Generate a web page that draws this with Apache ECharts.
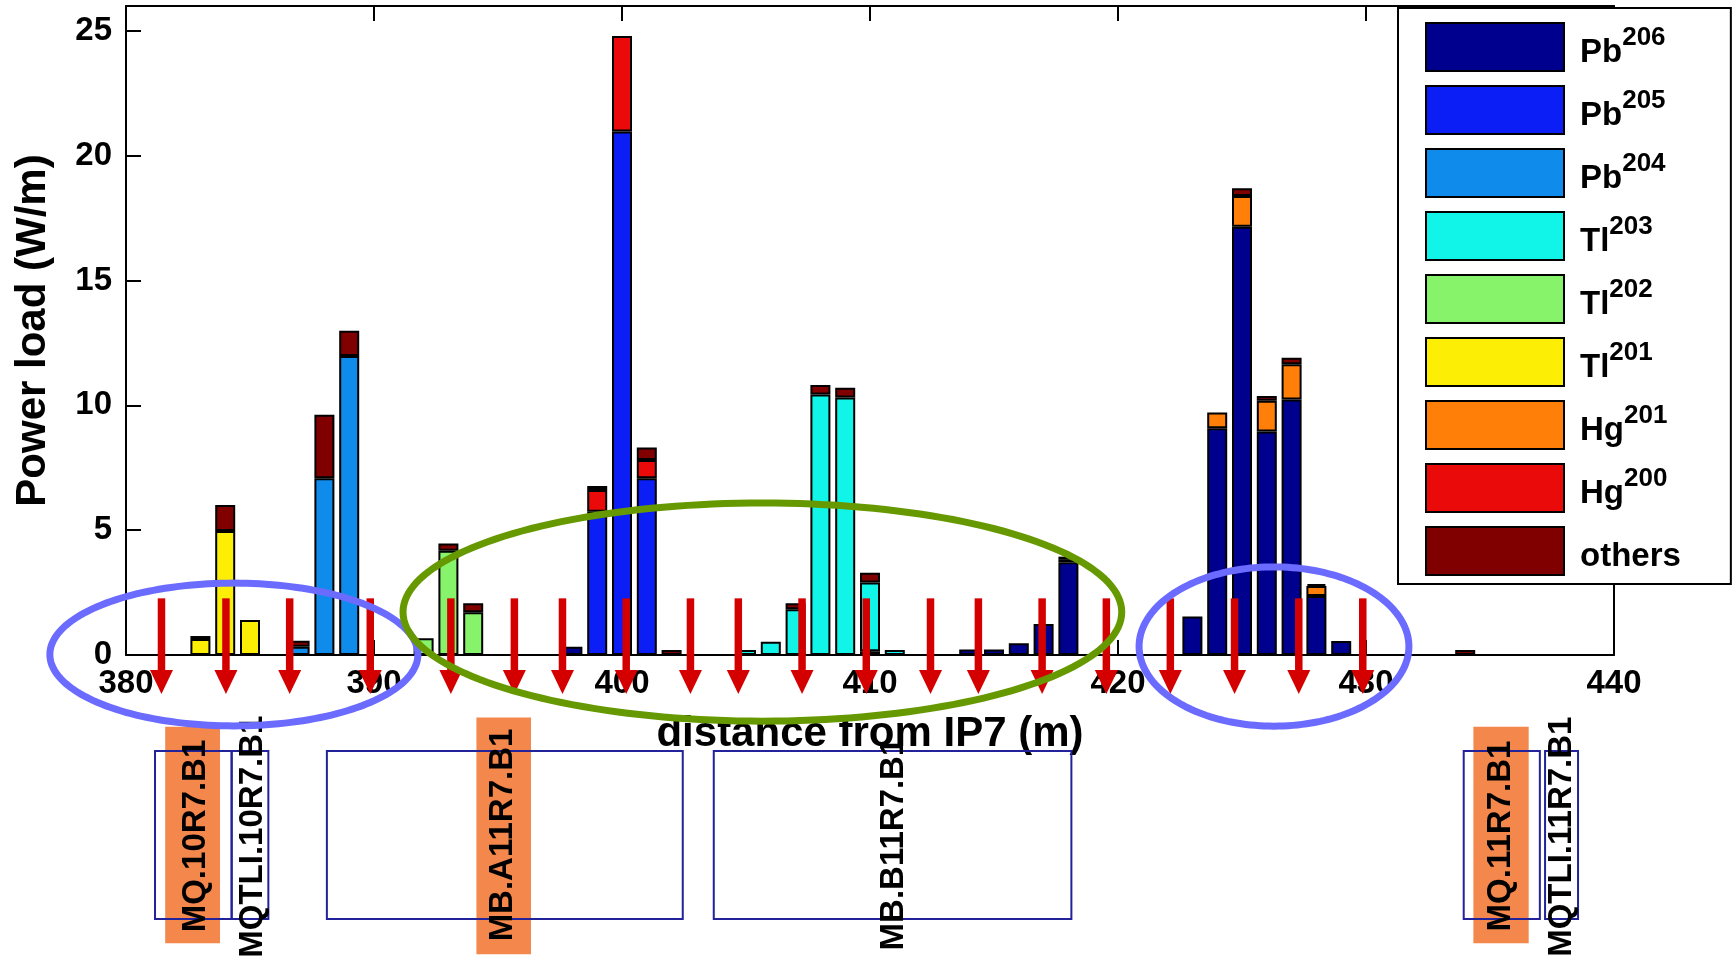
<!DOCTYPE html>
<html><head><meta charset="utf-8">
<script src="https://cdn.jsdelivr.net/npm/echarts@6/dist/echarts.min.js"></script>
<style>html,body{margin:0;padding:0;background:#fff}#c{width:1734px;height:965px}</style>
</head><body><div id="c"></div>
<script>
// ---------- data ----------
const positions = [383,384,385, 387,388,389, 392,393,394, 398,399,400,401,402, 405,406,407,408,409,410,411, 414,415,416,417,418, 423,424,425,426,427,428,429, 434];
const Pb206  = [0,0,0, 0,0,0, 0,0,0, 0.33,0,0,0,0, 0,0,0,0,0,0.15,0, 0.22,0.22,0.47,1.24,3.72, 1.54,9.08,17.16,8.95,10.24,2.36,0.56, 0];
const Pb205  = [0,0,0, 0,0,0, 0,0,0, 0,5.74,20.97,7.08,0, 0,0,0,0,0,0,0, 0,0,0,0,0, 0,0,0,0,0,0,0, 0];
const Pb204  = [0,0,0, 0.33,7.08,11.98, 0,0,0, 0,0,0,0,0, 0,0,0,0,0,0,0, 0,0,0,0,0, 0,0,0,0,0,0,0, 0];
const Tl203  = [0,0,0, 0,0,0, 0,0,0, 0,0,0,0,0, 0.2,0.53,1.83,10.44,10.32,2.75,0.2, 0,0,0,0,0, 0,0,0,0,0,0,0, 0];
const Tl202  = [0,0,0, 0,0,0, 0.67,4.18,1.71, 0,0,0,0,0, 0,0,0,0,0,0,0, 0,0,0,0,0, 0,0,0,0,0,0,0, 0];
const Tl201  = [0.64,4.97,1.40, 0,0,0, 0,0,0, 0,0,0,0,0, 0,0,0,0,0,0,0, 0,0,0,0,0, 0,0,0,0,0,0,0, 0];
const Hg201  = [0,0,0, 0,0,0, 0,0,0, 0,0,0,0,0, 0,0,0,0,0,0,0, 0,0,0,0,0.12, 0,0.63,1.23,1.24,1.41,0.40,0, 0];
const Hg200  = [0,0,0, 0,0,0, 0,0,0, 0,0.87,3.83,0.73,0, 0,0,0,0,0,0,0, 0,0,0,0,0, 0,0,0,0,0,0,0, 0];
const others = [0.12,1.04,0, 0.24,2.54,1.01, 0,0.29,0.36, 0,0.16,0,0.50,0.2, 0,0,0.24,0.38,0.39,0.40,0, 0,0,0,0,0.1, 0,0,0.31,0.19,0.26,0.08,0, 0.2];

const seriesNames = ['Pb206','Pb205','Pb204','Tl203','Tl202','Tl201','Hg201','Hg200','others'];
const seriesValues = [Pb206, Pb205, Pb204, Tl203, Tl202, Tl201, Hg201, Hg200, others];

const xTicks = {min: 380, max: 440, interval: 10};
const yTicks = {min: 0, max: 26, interval: 5};

// annotations (data units: m, W/m)
const arrowX = [381.43, 384.03, 386.6, 389.85, 393.1, 395.66, 397.6, 400.17, 402.76, 404.69, 407.26, 409.85, 412.44, 414.37, 416.94, 419.53, 422.11, 424.7, 427.29, 429.87];
const arrowTop = 2.27, arrowNeck = -0.60, arrowTip = -1.56;
const ellipseCx = [384.35, 405.66, 426.29];
const ellipseCy = [0.02, 1.72, 0.34];
const ellipseRx = [7.42, 14.49, 5.44];
const ellipseRy = [2.86, 4.37, 3.19];

// magnet layout (x in m, strip units 0..1)
const magnetNames = ['MQ.10R7.B1','MQTLI.10R7.B1','MB.A11R7.B1','MB.B11R7.B1','MQ.11R7.B1','MQTLI.11R7.B1'];
const magnetStart = [381.17, 384.26, 388.10, 403.70, 433.94, 437.22];
const magnetEnd   = [384.26, 385.74, 402.45, 418.12, 437.01, 438.55];
const labelX = [382.80, 385.12, 395.20, 410.95, 435.44, 437.90];
const labelY = [0.494, 0.49, 0.50, 0.446, 0.494, 0.49];
const hlStart = [381.58, 394.13, 434.33];
const hlEnd   = [383.79, 396.33, 436.56];
const hlBottom = [-0.145, -0.21, -0.145];
const hlTop    = [1.145, 1.20, 1.145];

// ---------- styles ----------
const FONT = '"Liberation Sans", Arial, sans-serif';
const colors = ['#00008f','#0a1ef5','#0f8ceb','#10f5e8','#86f36a','#fcef05','#ff7f08','#ea0a0a','#800000'];
const ellipseColors = ['#6b6bff','#669900','#6b6bff'];
const ARROW_COLOR = '#d40000';

const chart = echarts.init(document.getElementById('c'));

const axisLineStyle = {show: true, onZero: false, lineStyle: {color: '#000', width: 2}};
const tickStyle = {show: true, inside: true, length: 15, lineStyle: {color: '#000', width: 2}};
const labelStyle = {color: '#000', fontFamily: FONT, fontWeight: 'bold', fontSize: 33};

// data given as [value, position] so that the stacked dimension is the value (y) one
const barSeries = seriesNames.map((name, k) => ({
  name, type: 'bar', stack: 'total', xAxisIndex: 0, yAxisIndex: 0,
  encode: {x: 1, y: 0},
  barWidth: 20,
  itemStyle: {color: colors[k], borderColor: '#000', borderWidth: 2},
  emphasis: {disabled: true},
  data: positions.map((x, i) => [seriesValues[k][i] ? seriesValues[k][i] : null, x]),
  z: 2
}));

const ellipseSeries = {
  type: 'custom', xAxisIndex: 0, yAxisIndex: 0, clip: false, z: 5, silent: true,
  data: ellipseCx.map((x, i) => [x, ellipseCy[i]]),
  renderItem(params, api) {
    const i = params.dataIndex;
    const c = api.coord([ellipseCx[i], ellipseCy[i]]);
    const e = api.coord([ellipseCx[i] + ellipseRx[i], ellipseCy[i] + ellipseRy[i]]);
    const rx = e[0] - c[0], ry = c[1] - e[1];
    const pts = [];
    for (let t = 0; t < 180; t++) {
      const a = t / 180 * Math.PI * 2;
      pts.push([c[0] + rx * Math.cos(a), c[1] + ry * Math.sin(a)]);
    }
    return {type: 'polygon', shape: {points: pts}, style: {fill: null, stroke: ellipseColors[i], lineWidth: 7}};
  }
};

const arrowSeries = {
  type: 'custom', xAxisIndex: 0, yAxisIndex: 0, clip: false, z: 4, silent: true,
  data: arrowX.map(x => [x, arrowTop]),
  renderItem(params, api) {
    const x = api.value(0);
    const top = api.coord([x, arrowTop]);
    const neck = api.coord([x, arrowNeck]);
    const tip = api.coord([x, arrowTip]);
    return {type: 'group', children: [
      {type: 'rect', shape: {x: top[0] - 3.75, y: top[1], width: 7.5, height: neck[1] - top[1] + 1}, style: {fill: ARROW_COLOR}},
      {type: 'polygon', shape: {points: [[neck[0] - 11.5, neck[1]], [neck[0] + 11.5, neck[1]], [tip[0], tip[1]]]}, style: {fill: ARROW_COLOR}}
    ]};
  }
};

const highlightSeries = {
  type: 'custom', xAxisIndex: 2, yAxisIndex: 2, clip: false, z: 2, silent: true,
  data: hlStart.map((x, i) => [x, hlBottom[i]]),
  renderItem(params, api) {
    const i = params.dataIndex;
    const a = api.coord([hlStart[i], hlTop[i]]);
    const b = api.coord([hlEnd[i], hlBottom[i]]);
    return {type: 'rect', shape: {x: a[0], y: a[1], width: b[0] - a[0], height: b[1] - a[1]}, style: {fill: '#f4874b'}};
  }
};

const boxSeries = {
  type: 'custom', xAxisIndex: 2, yAxisIndex: 2, clip: false, z: 3, silent: true,
  data: magnetStart.map((x, i) => [x, 0]),
  renderItem(params, api) {
    const i = params.dataIndex;
    const a = api.coord([magnetStart[i], 1]);
    const b = api.coord([magnetEnd[i], 0]);
    return {type: 'rect', shape: {x: a[0], y: a[1], width: b[0] - a[0], height: b[1] - a[1]}, style: {fill: null, stroke: '#22229a', lineWidth: 2}};
  }
};

const labelSeries = {
  type: 'custom', xAxisIndex: 2, yAxisIndex: 2, clip: false, z: 4, silent: true,
  data: labelX.map((x, i) => [x, labelY[i]]),
  renderItem(params, api) {
    const i = params.dataIndex;
    const p = api.coord([labelX[i], labelY[i]]);
    return {type: 'text', x: p[0], y: p[1], rotation: Math.PI / 2,
      style: {text: magnetNames[i], fill: '#000', font: 'bold 33px ' + FONT, align: 'center', verticalAlign: 'middle'}};
  }
};

const option = {
  animation: false,
  backgroundColor: '#fff',
  grid: [
    {left: 126, right: 120, top: 6, bottom: 310, containLabel: false},
    {left: 126, right: 120, top: 751, height: 168, containLabel: false}
  ],
  legend: {
    orient: 'vertical', left: 1398, top: 8, padding: [14, 50, 8, 27],
    itemWidth: 138, itemHeight: 48, itemGap: 13, icon: 'rect',
    backgroundColor: '#fff', borderColor: '#000', borderWidth: 2,
    selectedMode: false, z: 10,
    data: seriesNames,
    formatter: n => { const m = n.match(/^([A-Za-z]+)(\d+)$/); return m ? '{m|' + m[1] + '}{s|' + m[2] + '}' : '{m|' + n + '}'; },
    textStyle: {color: '#000', fontFamily: FONT, fontWeight: 'bold', fontSize: 33, padding: [0, 0, 0, 11],
      rich: {
        m: {fontSize: 33, fontWeight: 'bold', fontFamily: FONT, color: '#000', lineHeight: 44, verticalAlign: 'bottom'},
        s: {fontSize: 26, fontWeight: 'bold', fontFamily: FONT, color: '#000', lineHeight: 26, verticalAlign: 'top'}
      }}
  },
  xAxis: [
    {type: 'value', gridIndex: 0, position: 'bottom', min: xTicks.min, max: xTicks.max, interval: xTicks.interval,
     axisLine: axisLineStyle, axisTick: tickStyle, splitLine: {show: false},
     axisLabel: Object.assign({margin: 12}, labelStyle),
     name: 'distance from IP7 (m)', nameLocation: 'middle', nameGap: 58,
     nameTextStyle: {color: '#000', fontFamily: FONT, fontWeight: 'bold', fontSize: 42}},
    {type: 'value', gridIndex: 0, position: 'top', min: xTicks.min, max: xTicks.max, interval: xTicks.interval,
     axisLine: axisLineStyle, axisTick: tickStyle, splitLine: {show: false}, axisLabel: {show: false}},
    {type: 'value', gridIndex: 1, min: xTicks.min, max: xTicks.max, show: false}
  ],
  yAxis: [
    {type: 'value', gridIndex: 0, position: 'left', min: yTicks.min, max: yTicks.max, interval: yTicks.interval,
     axisLine: axisLineStyle, axisTick: tickStyle, splitLine: {show: false},
     axisLabel: Object.assign({margin: 14, showMaxLabel: false}, labelStyle),
     name: 'Power load (W/m)', nameLocation: 'middle', nameGap: 72,
     nameTextStyle: {color: '#000', fontFamily: FONT, fontWeight: 'bold', fontSize: 42}},
    {type: 'value', gridIndex: 0, position: 'right', min: yTicks.min, max: yTicks.max, interval: yTicks.interval,
     axisLine: axisLineStyle, axisTick: tickStyle, splitLine: {show: false}, axisLabel: {show: false}},
    {type: 'value', gridIndex: 1, min: 0, max: 1, show: false}
  ],
  series: barSeries.concat([arrowSeries, ellipseSeries, highlightSeries, boxSeries, labelSeries])
};
chart.setOption(option);
</script></body></html>
